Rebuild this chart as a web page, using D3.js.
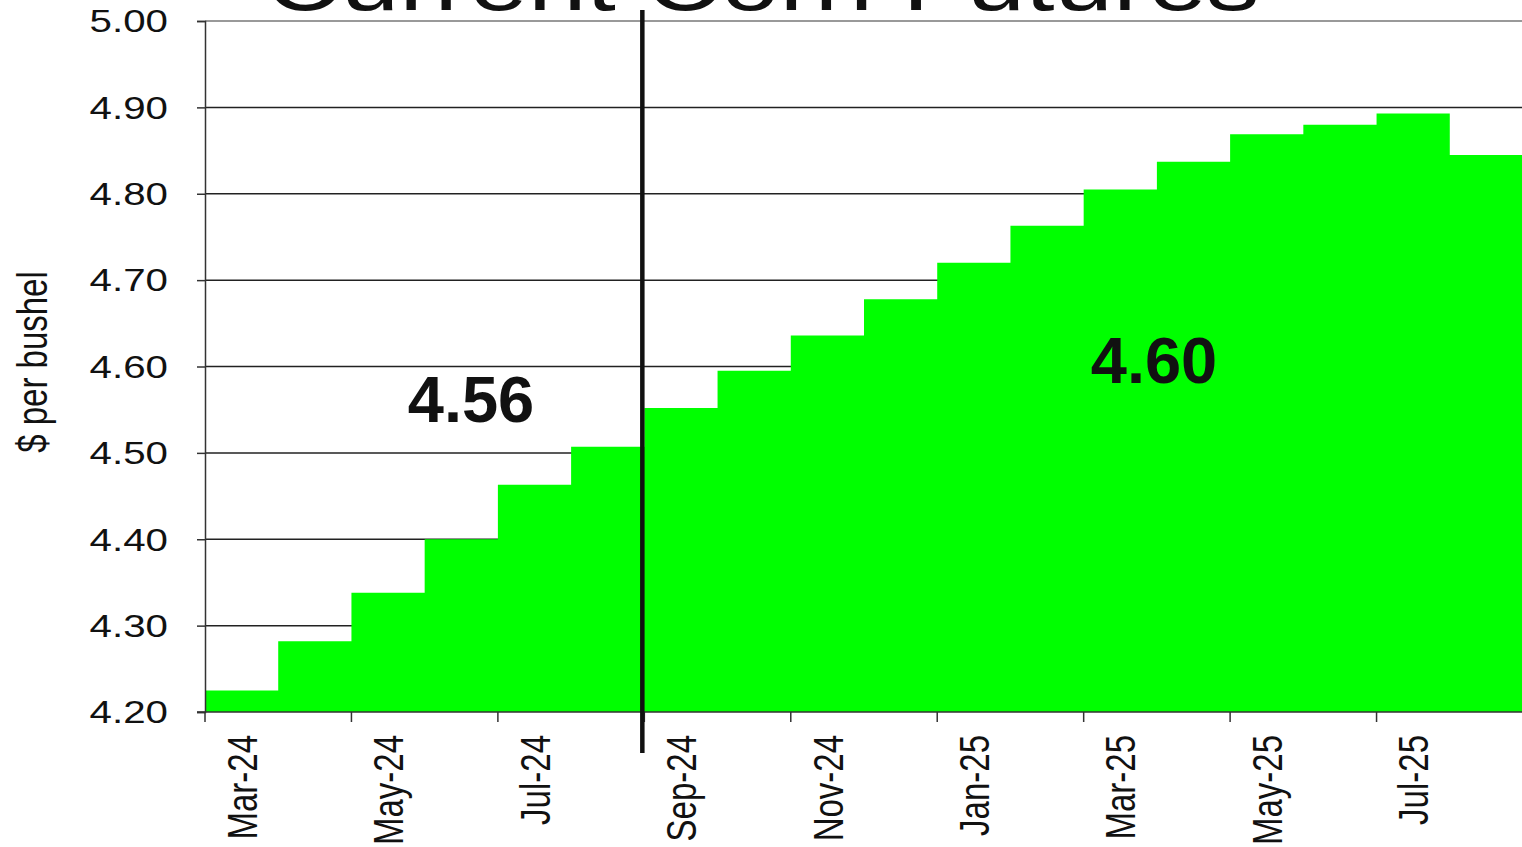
<!DOCTYPE html>
<html>
<head>
<meta charset="utf-8">
<script src="https://cdn.jsdelivr.net/npm/d3@7"></script>
<style>
  html, body { margin: 0; padding: 0; background: #fff; overflow: hidden; }
  svg { display: block; font-family: "Liberation Sans", Arial, sans-serif; }
</style>
</head>
<body>
<script>
// monthly futures settle prices, $ per bushel
const months = ['Mar-24', 'Apr-24', 'May-24', 'Jun-24', 'Jul-24', 'Aug-24', 'Sep-24', 'Oct-24', 'Nov-24',
  'Dec-24', 'Jan-25', 'Feb-25', 'Mar-25', 'Apr-25', 'May-25', 'Jun-25', 'Jul-25', 'Aug-25'];
const prices = [4.225, 4.282, 4.338, 4.400, 4.463, 4.507, 4.552, 4.595, 4.636,
  4.678, 4.720, 4.763, 4.805, 4.837, 4.869, 4.880, 4.893, 4.845];
const yTicks = [4.20, 4.30, 4.40, 4.50, 4.60, 4.70, 4.80, 4.90, 5.00];
const labelledMonths = ['Mar-24', 'May-24', 'Jul-24', 'Sep-24', 'Nov-24', 'Jan-25', 'Mar-25', 'May-25', 'Jul-25'];
const dividerMonth = 'Sep-24';
const averageLabels = ['4.56', '4.60'];
const title = 'Current Corn Futures';
const yTitle = '$ per bushel';

const W = 1522, H = 847;
const m = { left: 205, right: 1523, top: 21, bottom: 712 };
const green = '#00ff00';
const ink = '#111';
const stretch = 1.3; // the source picture is squashed horizontally

const svg = d3.select('body').append('svg')
  .attr('width', W)
  .attr('height', H);

const x = d3.scaleLinear().domain([0, months.length]).range([m.left, m.right]);
const y = d3.scaleLinear().domain([4.2, 5.0]).range([m.bottom, m.top]);
const idx = d => months.indexOf(d);

// grid
svg.append('g')
  .selectAll('line')
  .data(yTicks.slice(1))
  .join('line')
  .attr('x1', m.left).attr('x2', W)
  .attr('y1', d => y(d)).attr('y2', d => y(d))
  .attr('stroke', d => d === 5.0 ? '#999' : '#222')
  .attr('stroke-width', d => d === 5.0 ? 2 : 1.5);

// step area
const pts = prices.map((v, i) => [i, v]);
pts.push([months.length, prices[prices.length - 1]]);
const area = d3.area()
  .curve(d3.curveStepAfter)
  .x(d => x(d[0]))
  .y0(y(4.2))
  .y1(d => y(d[1]));
svg.append('path')
  .datum(pts)
  .attr('d', area)
  .attr('fill', green);

// y axis
const yAxis = svg.append('g')
  .attr('transform', `translate(${m.left},0)`)
  .call(d3.axisLeft(y).tickValues(yTicks).tickFormat(d3.format('.2f')).tickSize(8).tickPadding(0));
yAxis.select('.domain').attr('stroke', '#333').attr('stroke-width', 1.5);
yAxis.selectAll('.tick line').attr('stroke', '#333').attr('stroke-width', 1.5);
yAxis.selectAll('.tick text')
  .attr('x', null).attr('dy', null)
  .attr('fill', ink)
  .attr('font-size', 31)
  .attr('font-family', '"Liberation Sans", Arial, sans-serif')
  .attr('text-anchor', 'end')
  .attr('dominant-baseline', 'central')
  .attr('transform', `translate(-37,0) scale(${stretch},1)`);

// x axis
const xg = svg.append('g').attr('transform', `translate(0,${m.bottom})`);
xg.append('line')
  .attr('x1', m.left - 8).attr('x2', W)
  .attr('stroke', '#333').attr('stroke-width', 1.5);
xg.selectAll('line.tick')
  .data(labelledMonths)
  .join('line')
  .attr('class', 'tick')
  .attr('x1', d => x(idx(d))).attr('x2', d => x(idx(d)))
  .attr('y1', 0).attr('y2', 10)
  .attr('stroke', '#333').attr('stroke-width', 1.5);
xg.selectAll('text')
  .data(labelledMonths)
  .join('text')
  .attr('transform', d => `translate(${x(idx(d) + 0.5)},23) scale(${stretch},1) rotate(-90)`)
  .attr('text-anchor', 'end')
  .attr('dominant-baseline', 'central')
  .attr('font-size', 33)
  .attr('fill', ink)
  .text(d => d);

// y title
svg.append('text')
  .attr('transform', `translate(32,362) scale(${stretch},1) rotate(-90)`)
  .attr('text-anchor', 'middle')
  .attr('dominant-baseline', 'central')
  .attr('font-size', 33)
  .attr('fill', ink)
  .text(yTitle);

// chart title, cut by the top edge like in the source slide
svg.append('text')
  .attr('transform', `translate(762,10) scale(${stretch},1)`)
  .attr('text-anchor', 'middle')
  .attr('font-size', 81)
  .attr('fill', ink)
  .text(title);

// divider
const xd = x(idx(dividerMonth)) - 2;
svg.append('line')
  .attr('x1', xd).attr('x2', xd)
  .attr('y1', 10).attr('y2', 753)
  .attr('stroke', ink)
  .attr('stroke-width', 4.5);

// average labels
svg.selectAll('text.avg')
  .data(averageLabels)
  .join('text')
  .attr('class', 'avg')
  .attr('x', (d, i) => i === 0 ? 471 : 1154)
  .attr('y', (d, i) => i === 0 ? 422 : 383)
  .attr('text-anchor', 'middle')
  .attr('font-size', 65)
  .attr('font-weight', 'bold')
  .attr('fill', ink)
  .text(d => d);
</script>
</body>
</html>
